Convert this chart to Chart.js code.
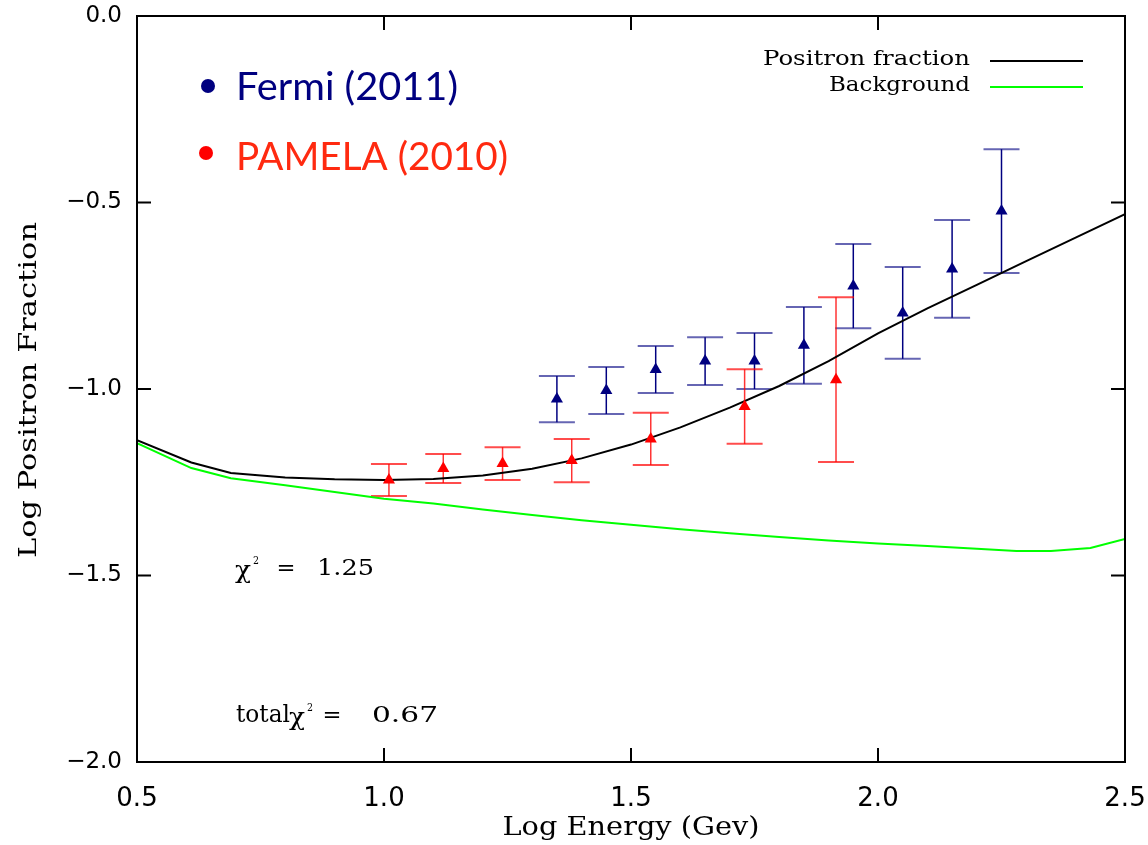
<!DOCTYPE html>
<html lang="en">
<head>
  <meta charset="UTF-8" />
  <title>Log Positron Fraction</title>
  <script src="https://cdn.jsdelivr.net/npm/chart.js"></script>
  <style>
    * { box-sizing: border-box; }
    body { margin: 0; background: #fff; }
    canvas { display: block; }
  </style>
</head>
<body>
  <canvas id="chart" width="1148" height="845"></canvas>

  <script>
    // --- data ---
    const xTicks = [0.5, 1.0, 1.5, 2.0, 2.5];
    const yTicks = [0.0, -0.5, -1.0, -1.5, -2.0];

    const fermiX   = [1.35, 1.45, 1.55, 1.65, 1.75, 1.85, 1.95, 2.05, 2.15, 2.25];
    const fermiY   = [-1.027, -1.004, -0.948, -0.925, -0.925, -0.883, -0.724, -0.796, -0.678, -0.523];
    const fermiErr = [0.062, 0.063, 0.063, 0.064, 0.075, 0.103, 0.113, 0.123, 0.131, 0.166];

    const pamelaX   = [1.01, 1.12, 1.24, 1.38, 1.54, 1.73, 1.915];
    const pamelaY   = [-1.244, -1.213, -1.200, -1.192, -1.134, -1.047, -0.975];
    const pamelaErr = [0.043, 0.039, 0.044, 0.058, 0.070, 0.100, 0.221];

    const positronX = [0.50, 0.61, 0.69, 0.80, 0.90, 1.00, 1.10, 1.20, 1.30, 1.40, 1.50,
                       1.60, 1.70, 1.80, 1.90, 2.00, 2.10, 2.20, 2.30, 2.40, 2.50];
    const positronY = [-1.137, -1.197, -1.225, -1.237, -1.242, -1.244, -1.241, -1.232, -1.214, -1.186, -1.149,
                       -1.103, -1.050, -0.992, -0.925, -0.851, -0.784, -0.721, -0.657, -0.594, -0.531];

    const backgroundX = [0.50, 0.61, 0.69, 0.80, 0.90, 1.00, 1.10, 1.20, 1.30, 1.40, 1.50,
                         1.60, 1.70, 1.80, 1.90, 2.00, 2.10, 2.20, 2.28, 2.35, 2.43, 2.50];
    const backgroundY = [-1.145, -1.212, -1.239, -1.258, -1.276, -1.294, -1.307, -1.323, -1.338, -1.352, -1.364,
                         -1.376, -1.387, -1.397, -1.406, -1.414, -1.421, -1.428, -1.434, -1.434, -1.426, -1.402];

    const NAVY = '#000080';
    const RED = '#ff0000';
    const pts = (xs, ys) => xs.map((x, i) => ({ x: x, y: ys[i] }));

    // write text squeezed/stretched to a given width
    function fitText(ctx, text, x, y, width, font, align, rotate) {
      ctx.save();
      ctx.font = font;
      const w = ctx.measureText(text).width;
      ctx.translate(x, y);
      if (rotate) ctx.rotate(rotate);
      ctx.scale(width / w, 1);
      ctx.textAlign = align || 'center';
      ctx.textBaseline = 'middle';
      ctx.fillText(text, 0, 0);
      ctx.restore();
    }

    // error bars under the markers
    const errorBars = {
      id: 'errorBars',
      beforeDatasetsDraw(chart) {
        const { ctx, scales: { x, y } } = chart;
        const sets = [
          { xs: fermiX, ys: fermiY, es: fermiErr, col: NAVY, cap: 'rgba(0,0,128,0.6)' },
          { xs: pamelaX, ys: pamelaY, es: pamelaErr, col: 'rgba(255,0,0,0.8)', cap: 'rgba(255,0,0,0.7)' }
        ];
        ctx.save();
        sets.forEach(s => {
          s.xs.forEach((v, i) => {
            const px = x.getPixelForValue(v);
            const top = y.getPixelForValue(s.ys[i] + s.es[i]);
            const bot = y.getPixelForValue(s.ys[i] - s.es[i]);
            ctx.strokeStyle = s.col;
            ctx.lineWidth = 1.5;
            ctx.beginPath();
            ctx.moveTo(px, top); ctx.lineTo(px, bot);
            ctx.stroke();
            ctx.strokeStyle = s.cap;
            ctx.lineWidth = 2;
            ctx.beginPath();
            ctx.moveTo(px - 18, top); ctx.lineTo(px + 18, top);
            ctx.moveTo(px - 18, bot); ctx.lineTo(px + 18, bot);
            ctx.stroke();
          });
        });
        ctx.restore();
      }
    };

    // box, inward ticks and the texts
    const frame = {
      id: 'frame',
      afterDraw(chart) {
        const { ctx, chartArea: a, scales: { x, y } } = chart;
        ctx.save();
        ctx.strokeStyle = '#000';
        ctx.lineWidth = 2;
        ctx.strokeRect(a.left, a.top, a.right - a.left, a.bottom - a.top);
        ctx.beginPath();
        xTicks.forEach(v => {
          const px = x.getPixelForValue(v);
          ctx.moveTo(px, a.bottom); ctx.lineTo(px, a.bottom - 14);
          ctx.moveTo(px, a.top); ctx.lineTo(px, a.top + 14);
        });
        yTicks.forEach(v => {
          const py = y.getPixelForValue(v);
          ctx.moveTo(a.left, py); ctx.lineTo(a.left + 14, py);
          ctx.moveTo(a.right, py); ctx.lineTo(a.right - 14, py);
        });
        ctx.stroke();

        // axis titles
        ctx.fillStyle = '#000';
        fitText(ctx, 'Log Energy (Gev)', (a.left + a.right) / 2, 828, 257, '26px "DejaVu Serif"');
        fitText(ctx, 'Log Positron Fraction', 30, 390, 336, '24px "DejaVu Serif"', 'center', -Math.PI / 2);

        // line legend
        fitText(ctx, 'Positron fraction', 970, 60, 207, '20px "DejaVu Serif"', 'right');
        fitText(ctx, 'Background', 970, 86, 141, '20px "DejaVu Serif"', 'right');
        ctx.lineWidth = 2;
        ctx.strokeStyle = '#000';
        ctx.beginPath(); ctx.moveTo(990, 61); ctx.lineTo(1083, 61); ctx.stroke();
        ctx.strokeStyle = '#00ff00';
        ctx.beginPath(); ctx.moveTo(990, 87); ctx.lineTo(1083, 87); ctx.stroke();

        // data legend
        ctx.fillStyle = NAVY;
        ctx.beginPath(); ctx.arc(208, 86, 7, 0, Math.PI * 2); ctx.fill();
        fitText(ctx, 'Fermi (2011)', 236, 88, 222, '38px Lato', 'left');
        ctx.fillStyle = RED;
        ctx.beginPath(); ctx.arc(206, 153, 7, 0, Math.PI * 2); ctx.fill();
        ctx.fillStyle = '#ff2a10';
        fitText(ctx, 'PAMELA (2010)', 236, 158, 272, '38px Lato', 'left');

        // chi-square notes
        ctx.fillStyle = '#000';
        fitText(ctx, 'χ', 243, 571, 16, '25px "DejaVu Serif"');
        fitText(ctx, '2', 256, 561, 6, '11px "DejaVu Serif"');
        fitText(ctx, '=', 286, 569, 19, '22px "DejaVu Serif"');
        fitText(ctx, '1.25', 317, 569, 57, '23px "DejaVu Serif"', 'left');
        fitText(ctx, 'total', 236, 716, 54, '24px "DejaVu Serif"', 'left');
        fitText(ctx, 'χ', 297, 718, 16, '25px "DejaVu Serif"');
        fitText(ctx, '2', 310, 708, 6, '11px "DejaVu Serif"');
        fitText(ctx, '=', 332, 716, 19, '22px "DejaVu Serif"');
        fitText(ctx, '0.67', 372, 716, 66, '23px "DejaVu Serif"', 'left');
        ctx.restore();
      }
    };

    new Chart(document.getElementById('chart'), {
      type: 'scatter',
      data: {
        datasets: [
          {
            label: 'Fermi (2011)',
            data: pts(fermiX, fermiY),
            pointStyle: 'triangle',
            pointRadius: 7,
            backgroundColor: NAVY,
            borderColor: NAVY,
            borderWidth: 0
          },
          {
            label: 'PAMELA (2010)',
            data: pts(pamelaX, pamelaY),
            pointStyle: 'triangle',
            pointRadius: 7,
            backgroundColor: RED,
            borderColor: RED,
            borderWidth: 0
          },
          {
            label: 'Positron fraction',
            data: pts(positronX, positronY),
            showLine: true,
            pointRadius: 0,
            borderColor: '#000',
            borderWidth: 2,
            tension: 0
          },
          {
            label: 'Background',
            data: pts(backgroundX, backgroundY),
            showLine: true,
            pointRadius: 0,
            borderColor: '#00ff00',
            borderWidth: 2,
            tension: 0
          }
        ]
      },
      options: {
        responsive: false,
        devicePixelRatio: 1,
        animation: false,
        layout: { padding: { top: 16, right: 23, left: 0, bottom: 0 } },
        plugins: { legend: { display: false }, tooltip: { enabled: false } },
        scales: {
          x: {
            type: 'linear',
            min: 0.5,
            max: 2.5,
            afterBuildTicks: s => { s.ticks = xTicks.map(v => ({ value: v })); },
            afterFit: s => { s.height = 83; s.paddingLeft = 0; s.paddingRight = 0; },
            grid: { display: false, drawTicks: false },
            border: { display: false },
            ticks: {
              padding: 22,
              color: '#000',
              font: { family: '"DejaVu Sans"', size: 26 },
              callback: v => v.toFixed(1)
            }
          },
          y: {
            type: 'linear',
            min: -2,
            max: 0,
            afterBuildTicks: s => { s.ticks = yTicks.map(v => ({ value: v })); },
            afterFit: s => { s.width = 137; s.paddingTop = 0; s.paddingBottom = 0; },
            grid: { display: false, drawTicks: false },
            border: { display: false },
            ticks: {
              padding: 15,
              color: '#000',
              font: { family: '"DejaVu Sans"', size: 23 },
              callback: v => (v < 0 ? '\u2212' : '') + Math.abs(v).toFixed(1)
            }
          }
        }
      },
      plugins: [errorBars, frame]
    });
  </script>
</body>
</html>
